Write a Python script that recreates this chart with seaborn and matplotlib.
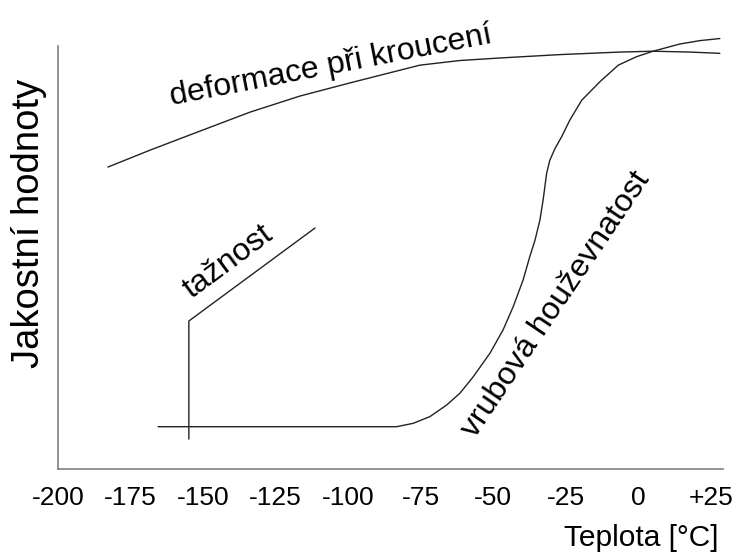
import matplotlib
matplotlib.use("Agg")
import matplotlib.pyplot as plt
import seaborn as sns
import pandas as pd

# Temperature axis (°C) and qualitative property curves (arbitrary units)
tick_values = [-200, -175, -150, -125, -100, -75, -50, -25, 0, 25]
tick_labels = ["-200", "-175", "-150", "-125", "-100", "-75", "-50", "-25", "0", "+25"]

# deformace při kroucení
torsion_x = [-182.8, -168.3, -151.1, -133.8, -116.6, -99.4, -82.2, -75.3, -61.5,
             -47.7, -27.0, -6.3, 5.0, 17.8, 28.1]
torsion_y = [71.4, 75.4, 79.9, 84.4, 88.2, 91.3, 94.3, 95.5, 96.6,
             97.2, 98.0, 98.6, 98.8, 98.6, 98.3]

# vrubová houževnatost
notch_x = [-165.5, -83.3, -77.6, -71.8, -66.1, -61.5, -56.9, -51.1, -46.6, -43.1,
           -39.7, -37.4, -35.6, -33.9, -32.8, -32.2, -31.6, -30.5, -28.7, -26.4,
           -23.6, -19.5, -13.2, -6.9, -0.6, 5.1, 14.3, 21.2, 28.1]
notch_y = [10.0, 10.0, 10.8, 12.4, 15.1, 17.9, 21.8, 27.4, 32.9, 38.4,
           44.7, 50.2, 54.1, 58.9, 63.6, 66.7, 69.9, 73.0, 75.8, 78.6,
           82.5, 87.2, 91.6, 95.5, 97.5, 98.8, 100.5, 101.3, 101.8]

# tažnost
elong_x = [-154.9, -154.9, -111.4]
elong_y = [7.1, 35.0, 57.0]

sns.set_theme(style="white")
plt.rcParams["font.family"] = ["Liberation Sans", "DejaVu Sans"]

fig = plt.figure(figsize=(7.36, 5.58), dpi=100)
ax = fig.add_axes([58 / 736, 89 / 558, 665 / 736, 444 / 558])

line_kw = dict(color="#222222", linewidth=1.0, sort=False, estimator=None, ax=ax)
for xs, ys in [(torsion_x, torsion_y), (notch_x, notch_y), (elong_x, elong_y)]:
    df = pd.DataFrame({"t": xs, "v": ys})
    sns.lineplot(data=df, x="t", y="v", **line_kw)

ax.set_xlim(-200, 29.2)
ax.set_ylim(0, 105)
ax.spines["left"].set_bounds(0, 100)
for side in ["top", "right"]:
    ax.spines[side].set_visible(False)
for side in ["left", "bottom"]:
    ax.spines[side].set_color("#808080")
    ax.spines[side].set_linewidth(1.2)

ax.set_xticks(tick_values)
ax.set_xticklabels(tick_labels)
ax.set_yticks([])
ax.tick_params(axis="x", length=0, pad=12, labelsize=19, labelcolor="black")

ax.set_xlabel("Teplota [°C]", fontsize=21.5, color="black")
ax.xaxis.set_label_coords(0.9925, -0.124)
ax.xaxis.label.set_horizontalalignment("right")
ax.xaxis.label.set_verticalalignment("top")

ax.set_ylabel("Jakostní hodnoty", fontsize=27.5, color="black")
ax.yaxis.set_label_coords(-0.017, 0.553)

text_kw = dict(fontsize=23, color="black", ha="center", va="center", rotation_mode="anchor")
ax.text(-105.8, 95.3, "deformace při kroucení", rotation=11, **text_kw)
ax.text(-141.4, 48.9, "tažnost", rotation=36.5, **text_kw)
ax.text(-28.4, 39.0, "vrubová houževnatost", rotation=56, **text_kw)

fig.savefig("out.png", dpi=100)
